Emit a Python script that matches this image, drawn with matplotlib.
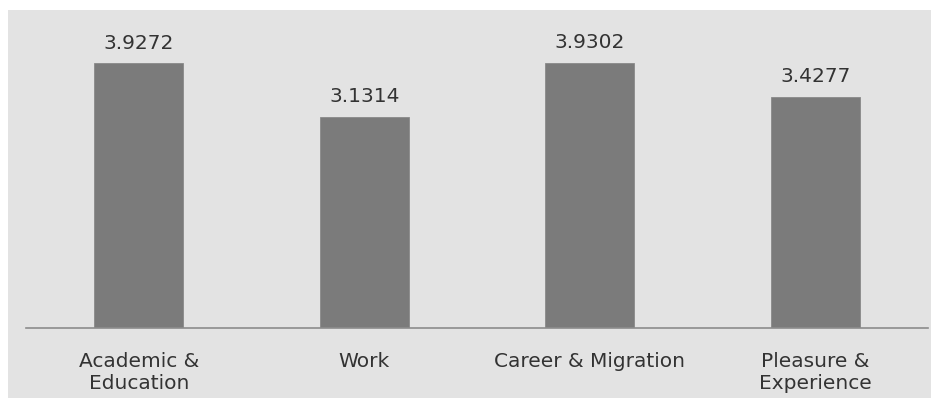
import matplotlib
matplotlib.use("Agg")
import matplotlib.pyplot as plt
from matplotlib.patches import Rectangle

categories = ["Academic &\nEducation", "Work", "Career & Migration", "Pleasure &\nExperience"]
values = [3.9272, 3.1314, 3.9302, 3.4277]
value_labels = ["3.9272", "3.1314", "3.9302", "3.4277"]

W, H = 931, 398
fig = plt.figure(figsize=(W / 100, H / 100), dpi=100)
fig.patch.set_facecolor("white")
# light gray chart area
fig.patches.append(Rectangle((8 / W, 0), 1 - 8 / W, 1 - 10 / H, transform=fig.transFigure,
                             facecolor="#e3e3e3", edgecolor="none", zorder=-10))

plt.rcParams["font.family"] = ["DejaVu Sans"]
ax = fig.add_axes([26 / W, (H - 328) / H, (928 - 26) / W, 303.7 / H])
ax.set_facecolor("none")
x = range(len(categories))
ax.bar(x, values, width=0.395, color="#7b7b7b", edgecolor="#8a8a8a", linewidth=0.6, zorder=2)
ax.set_xlim(-0.5, len(categories) - 0.5)
ax.set_ylim(0, 4.5)
for xi, v, lab in zip(x, values, value_labels):
    ax.annotate(lab, (xi, v), xytext=(0, 7.5), textcoords="offset points",
                ha="center", va="bottom", fontsize=14.5, color="#333333")
ax.set_xticks(list(x))
ax.set_xticklabels(categories, fontsize=14.5, color="#333333", linespacing=1.2)
ax.tick_params(axis="x", length=0, pad=17)
ax.set_yticks([])
for s in ["top", "right", "left"]:
    ax.spines[s].set_visible(False)
ax.spines["bottom"].set_color("#8c8c8c")
ax.spines["bottom"].set_linewidth(1.2)

fig.savefig("out.png", dpi=100, facecolor=fig.get_facecolor())
